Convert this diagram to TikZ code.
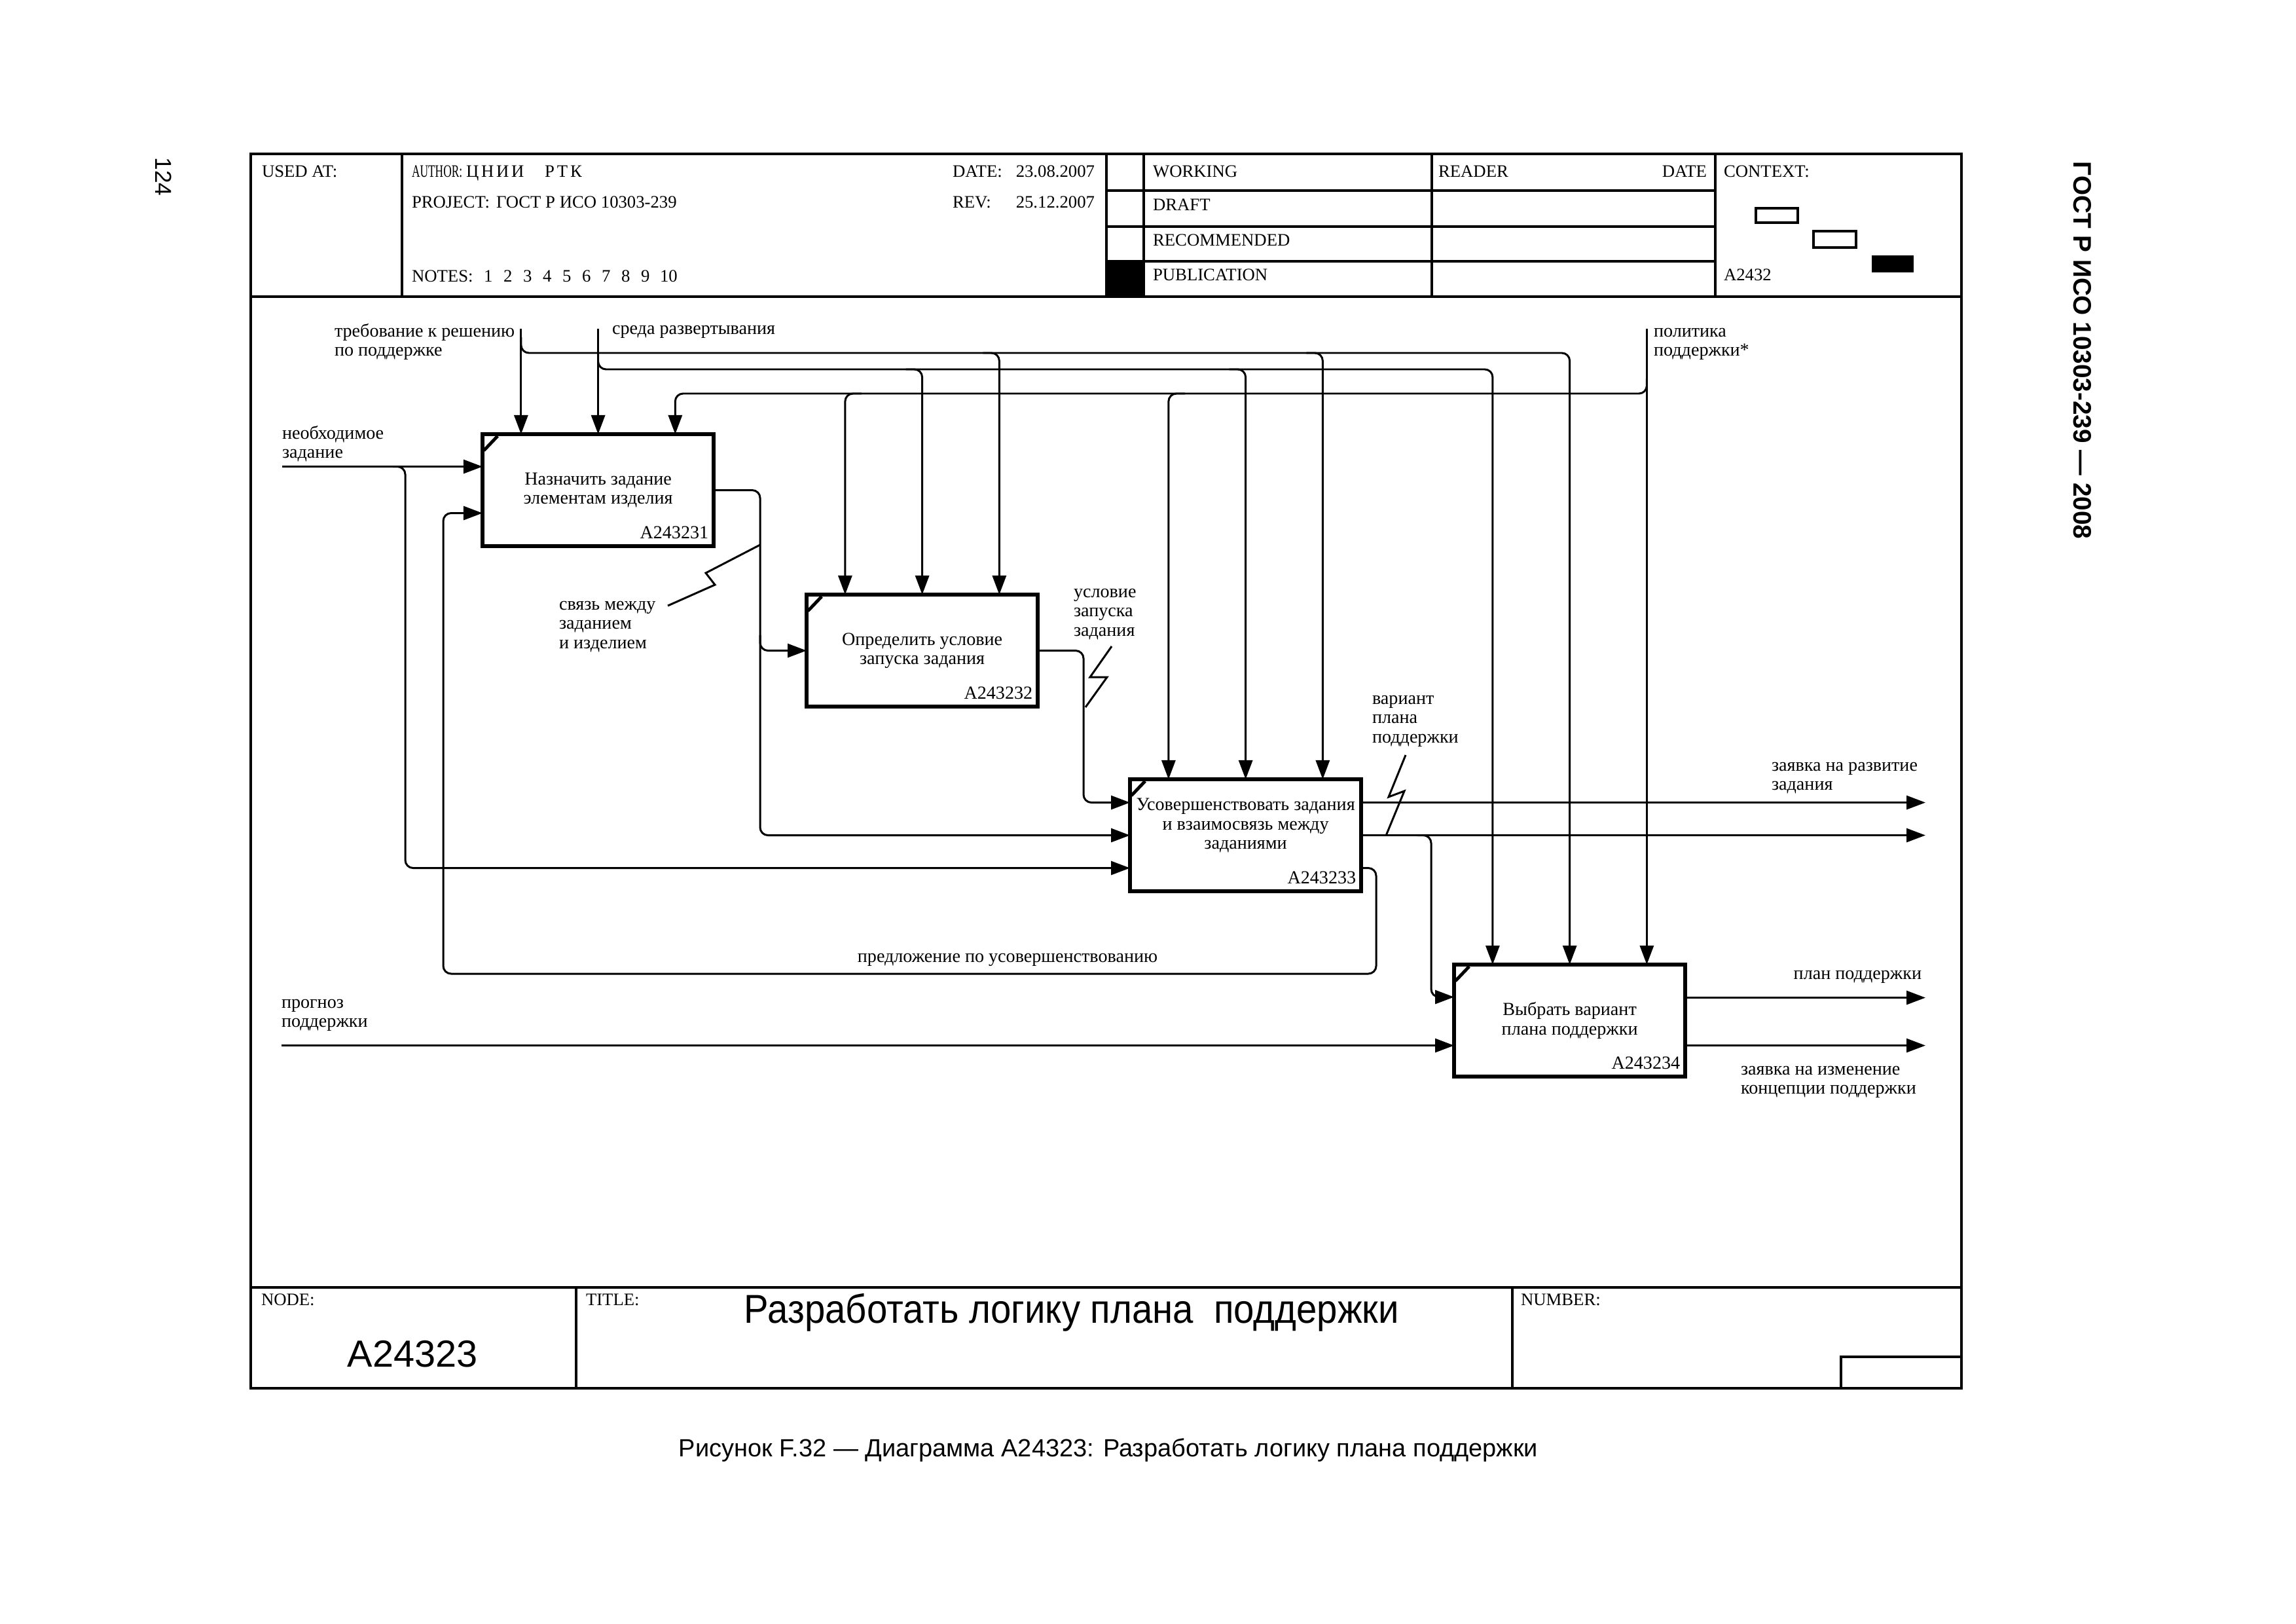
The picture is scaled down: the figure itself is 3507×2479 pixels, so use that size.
\documentclass[tikz,border=0pt]{standalone}
\usepackage{fontspec}
\setmainfont{Liberation Serif}
\newfontfamily\sansf{Liberation Sans}
\newfontfamily\narrowserif[FakeStretch=0.65]{Liberation Serif}
\newfontfamily\widecyr[LetterSpace=14]{Liberation Serif}
\newfontfamily\titlesans[FakeStretch=0.915]{Liberation Sans}
\usetikzlibrary{arrows.meta,calc}
\begin{document}
\begin{tikzpicture}[x=0.01cm,y=-0.01cm,
  every node/.style={inner sep=0pt, outer sep=0pt},
  frame/.style={line width=1.3pt},
  rule/.style={line width=1pt},
  box/.style={draw, line width=1.8pt, minimum width=3.53cm, minimum height=1.71cm, anchor=north west},
  boxtxt/.style={font=\fontsize{8}{8.4}\selectfont, align=center},
  idtxt/.style={font=\fontsize{8}{8.4}\selectfont, anchor=base east},
  lbl/.style={font=\fontsize{8}{8.4}\selectfont, align=left},
  hdr/.style={font=\fontsize{7.6}{8}\selectfont, anchor=base west},
  hdrr/.style={font=\fontsize{7.6}{8}\selectfont, anchor=base east},
  conn/.style={line width=0.85pt, rounded corners=0.12cm},
  arr/.style={conn, -{Triangle[length=0.29cm,width=0.21cm]}},
  zig/.style={line width=0.85pt},
  corner/.style={line width=1.4pt},
]
\fill[white] (0,0) rectangle (3507,2479);
\useasboundingbox (0,0) rectangle (3507,2479);

% ---------- frame ----------
\draw[frame] (383,235) rectangle (2996,2120);
\draw[rule] (383,453) -- (2996,453);
\draw[rule] (614,235) -- (614,453);
\draw[rule] (1690,235) -- (1690,453);
\draw[rule] (1747,235) -- (1747,453);
\draw[rule] (2187,235) -- (2187,453);
\draw[rule] (2620,235) -- (2620,453);
\foreach \yy in {291,346,399} \draw[rule] (1690,\yy) -- (2620,\yy);
\fill (1690,399) rectangle (1747,453);
\draw[line width=1.1pt] (2682,318) rectangle (2746,340);
\draw[line width=1.1pt] (2770,353) rectangle (2835,378);
\fill (2859,390) rectangle (2923,416);

\node[hdr] (usedat) at (400,271) {USED AT:};
\node[hdr, font=\narrowserif\fontsize{7.6}{8}\selectfont] (author) at (629,271) {AUTHOR:};
\node[hdr, font=\widecyr\fontsize{7.6}{8}\selectfont] (authorv1) at (712,271) {ЦНИИ};
\node[hdr, font=\widecyr\fontsize{7.6}{8}\selectfont] (authorv2) at (832,271) {РТК};
\node[hdr] (datel) at (1455,271) {DATE:};
\node[hdrr] (datev) at (1672,271) {23.08.2007};
\node[hdr] (project) at (629,318) {PROJECT:};
\node[hdr] (projectv) at (758,318) {ГОСТ Р ИСО 10303-239};
\node[hdr] (revl) at (1455,318) {REV:};
\node[hdrr] (revv) at (1672,318) {25.12.2007};
\node[hdr] (notes) at (629,430) {NOTES:};
\foreach \i in {1,...,9} \node[hdr] (note\i) at ({739+30*(\i-1)},430) {\i};
\node[hdr] (note10) at (1008,430) {10};
\node[hdr] (working) at (1761,271) {WORKING};
\node[hdr] (draft) at (1761,322) {DRAFT};
\node[hdr] (recom) at (1761,376) {RECOMMENDED};
\node[hdr] (publ) at (1761,429) {PUBLICATION};
\node[hdr] (reader) at (2197,271) {READER};
\node[hdrr] (rdate) at (2607,271) {DATE};
\node[hdr] (context) at (2633,271) {CONTEXT:};
\node[hdr] (ctxnode) at (2633,429) {A2432};

% footer
\draw[rule] (383,1966) -- (2996,1966);
\draw[rule] (880,1966) -- (880,2120);
\draw[rule] (2310,1966) -- (2310,2120);
\draw[rule] (2812,2120) -- (2812,2072) -- (2996,2072);
\node[hdr] (nodel) at (399,1993) {NODE:};
\node[hdr] (titlel) at (895,1993) {TITLE:};
\node[hdr] (numberl) at (2323,1993) {NUMBER:};
\node[font=\sansf\fontsize{16.4}{17}\selectfont] (nodev) at (630,2068) {A24323};
\node[font=\titlesans\fontsize{17.5}{18}\selectfont] (titlev) at (1637,2004) {Разработать логику плана\ \ поддержки};

% page texts
\node[font=\sansf\fontsize{10}{10}\selectfont, rotate=-90] (page) at (250,270) {124};
\node[font=\sansf\bfseries\fontsize{11}{11}\selectfont, rotate=-90] (gost) at (3181,535) {ГОСТ Р ИСО 10303-239 — 2008};
\node[font=\sansf\fontsize{10.8}{11}\selectfont] (caption) at (1693,2214) {Рисунок F.32 — Диаграмма A24323: Разработать логику плана поддержки};

% ---------- boxes ----------
\node[box] (b1) at (737,663) {};
\node[box] (b2) at (1232,908) {};
\node[box] (b3) at (1726,1190) {};
\node[box] (b4) at (2221,1473) {};
\foreach \b in {b1,b2,b3,b4}{
  \draw[corner] ($(\b.north west)+(23,3)$) -- ($(\b.north west)+(2,25)$);
}
\node[boxtxt] (b1t) at (b1.center) {Назначить задание\\элементам изделия};
\node[boxtxt] (b2t) at (b2.center) {Определить условие\\запуска задания};
\node[boxtxt] (b3t) at ($(b3.center)+(0,-15)$) {Усовершенствовать задания\\и взаимосвязь между\\заданиями};
\node[boxtxt] (b4t) at (b4.center) {Выбрать вариант\\плана поддержки};
\node[idtxt] (b1id) at ($(b1.south east)+(-8,-12)$) {A243231};
\node[idtxt] (b2id) at ($(b2.south east)+(-8,-12)$) {A243232};
\node[idtxt] (b3id) at ($(b3.south east)+(-8,-12)$) {A243233};
\node[idtxt] (b4id) at ($(b4.south east)+(-8,-12)$) {A243234};

% top arrow points
\foreach \b/\n in {b1/1,b2/2,b3/3,b4/4}{
  \coordinate (t\n1) at ($(\b.north west)!1/6!(\b.north east)$);
  \coordinate (t\n2) at ($(\b.north west)!1/2!(\b.north east)$);
  \coordinate (t\n3) at ($(\b.north west)!5/6!(\b.north east)$);
}
\coordinate (yA) at (0,539);
\coordinate (yB) at (0,564);
\coordinate (yC) at (0,601);
\coordinate (srcA) at (t11 |- 0,502);
\coordinate (srcB) at (t12 |- 0,502);
\coordinate (srcC) at (t43 |- 0,502);

% controls
\draw[arr] (srcA) -- (t11);
\draw[arr] (t11 |- 0,515) -- (t11 |- yA) -- (t42 |- yA) -- (t42);
\draw[arr] ($(t23 |- yA)+(-25,0)$) -- (t23 |- yA) -- (t23);
\draw[arr] ($(t33 |- yA)+(-25,0)$) -- (t33 |- yA) -- (t33);

\draw[arr] (srcB) -- (t12);
\draw[arr] (t12 |- 0,540) -- (t12 |- yB) -- (t41 |- yB) -- (t41);
\draw[arr] ($(t22 |- yB)+(-25,0)$) -- (t22 |- yB) -- (t22);
\draw[arr] ($(t32 |- yB)+(-25,0)$) -- (t32 |- yB) -- (t32);

\draw[arr] (srcC) -- (t43);
\draw[arr] (t43 |- 0,578) -- (t43 |- yC) -- (t13 |- yC) -- (t13);
\draw[arr] ($(t21 |- yC)+(25,0)$) -- (t21 |- yC) -- (t21);
\draw[arr] ($(t31 |- yC)+(25,0)$) -- (t31 |- yC) -- (t31);

% side points
\coordinate (b1i1) at ($(b1.west)+(0,-36)$);
\coordinate (b1i2) at ($(b1.west)+(0,35)$);
\coordinate (b3i1) at ($(b3.west)+(0,-50)$);
\coordinate (b3i2) at (b3.west);
\coordinate (b3i3) at ($(b3.west)+(0,50)$);
\coordinate (b3o1) at ($(b3.east)+(0,-50)$);
\coordinate (b3o2) at (b3.east);
\coordinate (b3o3) at ($(b3.east)+(0,50)$);
\coordinate (b4i1) at ($(b4.west)+(0,-36)$);
\coordinate (b4i2) at ($(b4.west)+(0,38)$);
\coordinate (b4o1) at ($(b4.east)+(0,-35)$);
\coordinate (b4o2) at ($(b4.east)+(0,38)$);
\coordinate (srcI) at (b1i1 -| 431,0);
\coordinate (srcP) at (b4i2 -| 430,0);

% inputs / outputs
\draw[arr] (srcI) -- (b1i1);
\draw[arr] (600,0 |- b1i1) -- (619,0 |- b1i1) -- (619,0 |- b3i3) -- (b3i3);
\draw[arr] (b1.east) -- (1161,0 |- b1.east) -- (1161,0 |- b3i2) -- (b3i2);
\draw[arr] (1161,970) -- (1161,0 |- b2.west) -- (b2.west);
\draw[arr] (b2.east) -- (1655,0 |- b2.east) -- (1655,0 |- b3i1) -- (b3i1);
\draw[arr] (b3o1) -- (b3o1 -| 2941,0);
\draw[arr] (b3o2) -- (b3o2 -| 2941,0);
\draw[arr] (2165,0 |- b3o2) -- (2186,0 |- b3o2) -- (2186,0 |- b4i1) -- (b4i1);
\draw[arr] (b3o3) -- (2102,0 |- b3o3) -- (2102,1487) -- (677,1487) -- (677,0 |- b1i2) -- (b1i2);
\draw[arr] (srcP) -- (b4i2);
\draw[arr] (b4o1) -- (b4o1 -| 2941,0);
\draw[arr] (b4o2) -- (b4o2 -| 2941,0);

% squiggles
\draw[zig] (1161,832) -- (1078,875) -- (1092,893) -- (1020,925);
\draw[zig] (1658,1080) -- (1691,1034) -- (1665,1034) -- (1698,987);
\draw[zig] (2117,1276) -- (2145,1208) -- (2121,1217) -- (2147,1153);

% labels
\node[lbl, anchor=north west] (lreq) at (511,494) {требование к решению\\по поддержке};
\node[lbl, anchor=west] (lenv) at (935,507) {среда развертывания};
\node[lbl, anchor=north west] (lpol) at (2526,501) {политика\\поддержки*};
\node[lbl, anchor=north west] (lneed) at (431,650) {необходимое\\задание};
\node[lbl, anchor=north west] (llink) at (854,918) {связь между\\заданием\\и изделием};
\node[lbl, anchor=north west] (lcond) at (1640,899) {условие\\запуска\\задания};
\node[lbl, anchor=north west] (lvar) at (2096,1062) {вариант\\плана\\поддержки};
\node[lbl, anchor=north west] (ldev) at (2706,1164) {заявка на развитие\\задания};
\node[lbl] (lfb) at (1539,1466) {предложение по усовершенствованию};
\node[lbl, anchor=north west] (lfc) at (430,1526) {прогноз\\поддержки};
\node[lbl, anchor=east] (lplan) at (2935,1492) {план поддержки};
\node[lbl, anchor=north west] (lchg) at (2659,1628) {заявка на изменение\\концепции поддержки};
\end{tikzpicture}
\end{document}
